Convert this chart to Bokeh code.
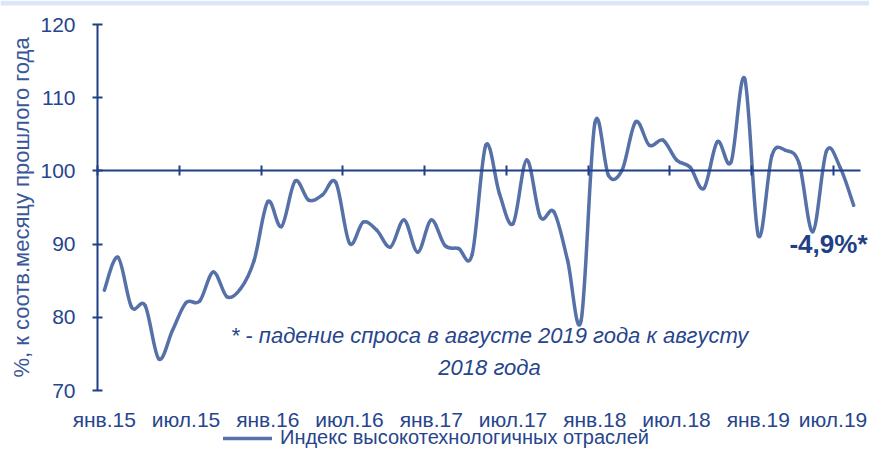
from bokeh.plotting import figure
from bokeh.models import (Range1d, LinearAxis, FixedTicker, Label, Legend, LegendItem,
                          ColumnDataSource, BoxAnnotation)
from bokeh.core.properties import value
from bokeh.embed import file_html
from bokeh.resources import INLINE

# ---- data ----
months = ["янв", "фев", "мар", "апр", "май", "июн", "июл", "авг", "сен", "окт", "ноя", "дек"]
years = ["15", "16", "17", "18", "19"]
categories = [f"{m}.{y}" for y in years for m in months][:56]

values = [83.7, 88.2, 81.4, 81.6, 74.3, 78.2, 82.0, 82.2, 86.2, 82.8,
          83.9, 87.8, 95.8, 92.4, 98.6, 96.0, 96.7, 98.4, 90.1, 93.0,
          91.9, 89.6, 93.3, 88.9, 93.3, 89.8, 89.4, 88.6, 103.5, 96.9,
          92.8, 101.5, 93.7, 94.4, 87.8, 79.6, 106.5, 99.4, 100.1, 106.7,
          103.5, 104.2, 101.5, 100.5, 97.6, 104.0, 101.2, 112.6, 91.2, 102.1,
          102.8, 101.0, 91.7, 102.7, 100.5, 95.3]

tick_labels = ["янв.15", "июл.15", "янв.16", "июл.16", "янв.17",
               "июл.17", "янв.18", "июл.18", "янв.19", "июл.19"]
y_ticks = [70, 80, 90, 100, 110, 120]
series_name = "Индекс высокотехнологичных отраслей"
note_line1 = "* - падение спроса в августе 2019 года к августу"
note_line2 = "2018 года"
last_label = "-4,9%*"

# ---- styling / layout ----
FONT = "Liberation Sans"
AXIS_COL = "#1f3f86"
TEXT_COL = "#27458c"
LINE_COL = "#5670a8"

W, H = 869, 449
LEFT, TOP = 97, 24           # where category 0 / value 120 sit, in px
PX_PER_CAT = 763 / 56        # horizontal scale
PX_PER_UNIT = 366 / 50       # vertical scale
Y_MIN, Y_MAX = 70, 120

n = len(values)
xs = [i + 0.5 for i in range(n)]


def y_at(px):
    return Y_MAX - (px - TOP) / PX_PER_UNIT


def x_at(px):
    return (px - LEFT) / PX_PER_CAT


# the frame covers the whole canvas; axes are pinned with fixed_location
p = figure(width=W, height=H, output_backend="svg", toolbar_location=None,
           x_range=Range1d(x_at(0), x_at(W)), y_range=Range1d(y_at(H), y_at(0)),
           x_axis_type=None, y_axis_type=None,
           min_border_left=0, min_border_right=0, min_border_top=0,
           min_border_bottom=0)
p.outline_line_color = None
p.background_fill_color = "white"
p.border_fill_color = "white"

# light band at the very top of the panel
p.add_layout(BoxAnnotation(bottom=y_at(5), top=y_at(0),
                           fill_color="#dbe7f6", fill_alpha=1.0, line_color=None))

# y axis
yax = LinearAxis(ticker=FixedTicker(ticks=y_ticks), bounds=(Y_MIN, Y_MAX), fixed_location=0)
yax.axis_line_color = AXIS_COL
yax.axis_line_width = 2
yax.major_tick_line_color = AXIS_COL
yax.major_tick_line_width = 2
yax.major_tick_in = 5
yax.major_tick_out = 5
yax.minor_tick_line_color = None
yax.major_label_text_font = FONT
yax.major_label_text_font_size = "21px"
yax.major_label_text_color = TEXT_COL
yax.major_label_standoff = 17
yax.axis_label = "%, к соотв.месяцу прошлого года"
yax.axis_label_text_font = FONT
yax.axis_label_text_font_size = "22px"
yax.axis_label_text_font_style = "normal"
yax.axis_label_text_color = "#3a5799"
yax.axis_label_standoff = 3
p.add_layout(yax, "left")

# category axis line at 100 with ticks between categories
boundaries = list(range(0, n, 6))
lax = LinearAxis(ticker=FixedTicker(ticks=boundaries), fixed_location=100, bounds=(0, n))
lax.axis_line_color = AXIS_COL
lax.axis_line_width = 2
lax.major_tick_line_color = AXIS_COL
lax.major_tick_line_width = 2
lax.major_tick_in = 5
lax.major_tick_out = 5
lax.minor_tick_line_color = None
lax.major_label_overrides = {b: "" for b in boundaries}
lax.major_label_text_font_size = "0px"
lax.major_label_standoff = 0
p.add_layout(lax, "above")

# category labels under the plot (last one nudged to stay inside the canvas)
label_pos = [xs[i] for i in range(0, n, 6)]
label_shift = [0] * (len(label_pos) - 1) + [-7]
p.text(x=label_pos, y=[y_at(419)] * len(label_pos), text=tick_labels, x_offset=label_shift,
       text_font=value(FONT), text_font_size=value("21px"), text_color=TEXT_COL,
       text_align="center", text_baseline="middle")

# smoothed line (Catmull-Rom as cubic Bezier, like Excel's smoothed line)
x0, y0, x1, y1, cx0, cy0, cx1, cy1 = [], [], [], [], [], [], [], []
for i in range(n - 1):
    pxm = xs[i - 1] if i > 0 else xs[i]
    pym = values[i - 1] if i > 0 else values[i]
    pxp = xs[i + 2] if i + 2 < n else xs[i + 1]
    pyp = values[i + 2] if i + 2 < n else values[i + 1]
    x0.append(xs[i]); y0.append(values[i])
    x1.append(xs[i + 1]); y1.append(values[i + 1])
    cx0.append(xs[i] + (xs[i + 1] - pxm) / 6.0)
    cy0.append(values[i] + (values[i + 1] - pym) / 6.0)
    cx1.append(xs[i + 1] - (pxp - xs[i]) / 6.0)
    cy1.append(values[i + 1] - (pyp - values[i]) / 6.0)
src = ColumnDataSource(dict(x0=x0, y0=y0, x1=x1, y1=y1, cx0=cx0, cy0=cy0, cx1=cx1, cy1=cy1))
curve = p.bezier(x0="x0", y0="y0", x1="x1", y1="y1", cx0="cx0", cy0="cy0", cx1="cx1",
                 cy1="cy1", source=src, line_color=LINE_COL, line_width=3.5,
                 line_cap="round")

# legend
legend = Legend(items=[LegendItem(label=series_name, renderers=[curve], index=0)],
                location=(223, 0), orientation="horizontal")
legend.background_fill_alpha = 0
legend.border_line_color = None
legend.padding = 0
legend.margin = 0
legend.glyph_width = 49
legend.glyph_height = 20
legend.label_height = 20
legend.label_standoff = 8
legend.label_text_font = FONT
legend.label_text_font_size = "20px"
legend.label_text_color = TEXT_COL
p.add_layout(legend, "center")

# annotations
p.add_layout(Label(x=x_at(489), y=y_at(335), text=note_line1, text_align="center",
                   text_baseline="middle", text_font=FONT, text_font_size="22px",
                   text_font_style="italic", text_color=TEXT_COL))
p.add_layout(Label(x=x_at(489), y=y_at(367), text=note_line2, text_align="center",
                   text_baseline="middle", text_font=FONT, text_font_size="22px",
                   text_font_style="italic", text_color=TEXT_COL))
p.add_layout(Label(x=x_at(867), y=y_at(243), text=last_label, text_align="right",
                   text_baseline="middle", text_font=FONT, text_font_size="26px",
                   text_font_style="bold", text_color="#1f3f86"))

open("out.html", "w").write(file_html(p, INLINE))
